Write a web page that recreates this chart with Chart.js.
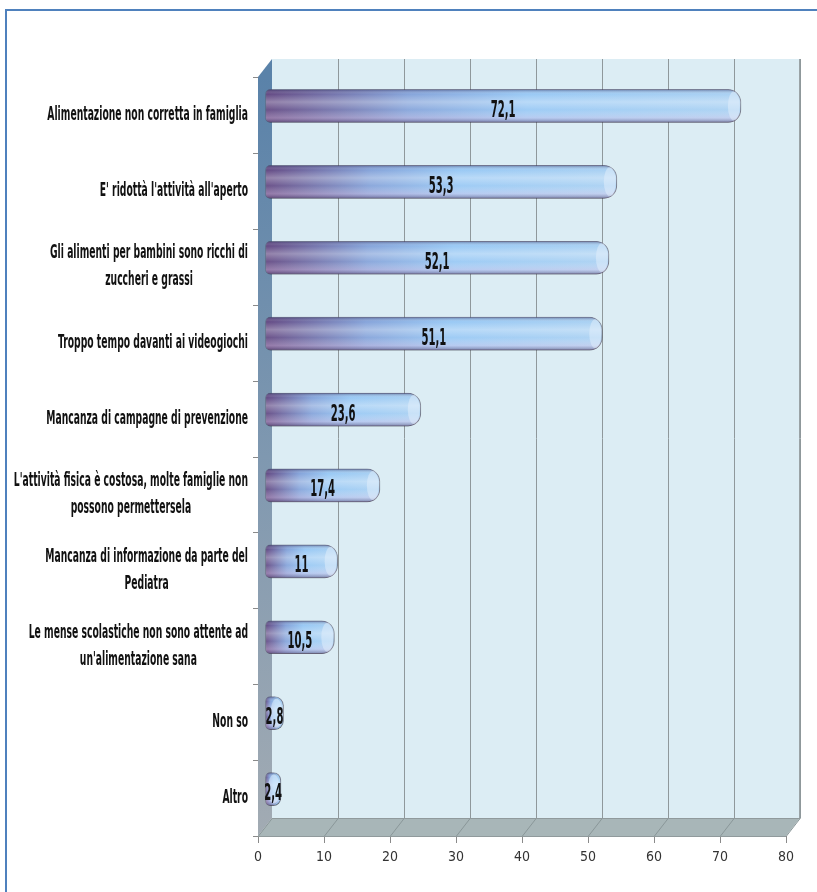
<!DOCTYPE html>
<html>
<head>
<meta charset="utf-8">
<script src="https://cdn.jsdelivr.net/npm/chart.js@4.4.1/dist/chart.umd.min.js"></script>
<style>
  html, body { margin: 0; padding: 0; background: #fff; }
</style>
</head>
<body>
<canvas id="chart" width="817" height="892"></canvas>
<script>
// ---- data ----
const categories = [
  ["Alimentazione non corretta in famiglia"],
  ["E' ridottà l'attività all'aperto"],
  ["Gli alimenti per bambini sono ricchi di", "zuccheri e grassi"],
  ["Troppo tempo davanti ai videogiochi"],
  ["Mancanza di campagne di prevenzione"],
  ["L'attività fisica è costosa, molte famiglie non", "possono permettersela"],
  ["Mancanza di informazione da parte del", "Pediatra"],
  ["Le mense scolastiche non sono attente ad", "un'alimentazione sana"],
  ["Non so"],
  ["Altro"]
];
const values = [72.1, 53.3, 52.1, 51.1, 23.6, 17.4, 11, 10.5, 2.8, 2.4];
const axisMin = 0, axisMax = 80, axisStep = 10;

// ---- look ----
const NARROW = "'Liberation Sans Narrow', 'DejaVu Sans Condensed', 'Arial Narrow', sans-serif";
const DX = 14, DY = 18;      // depth of the 3d box
let SX = 1;                  // horizontal squeeze of the label text

function poly(c, pts) {
  c.beginPath();
  pts.forEach((p, i) => i ? c.lineTo(p[0], p[1]) : c.moveTo(p[0], p[1]));
  c.closePath();
}
function seg(c, x1, y1, x2, y2) {
  c.beginPath(); c.moveTo(x1, y1); c.lineTo(x2, y2); c.stroke();
}
function fmt(v) { return String(v).replace('.', ','); }

const box3d = {
  id: 'box3d',
  beforeDraw(chart) {
    const c = chart.ctx;
    c.save();
    c.fillStyle = '#fff';
    c.fillRect(0, 0, chart.width, chart.height);
    c.strokeStyle = '#4f81bd';
    c.lineWidth = 2;
    c.strokeRect(6, 10, chart.width + 20, chart.height + 20);
    // text squeeze factor, measured once on two reference lines
    c.font = `bold 20px ${NARROW}`;
    SX = (206 / c.measureText(categories[0][0]).width +
          228 / c.measureText(categories[5][0]).width) / 2;
    c.restore();
  },
  beforeDatasetsDraw(chart) {
    const c = chart.ctx, a = chart.chartArea, xs = chart.scales.x;
    const L = a.left, R = a.right, T = a.top, B = a.bottom;
    c.save();
    // back wall
    c.fillStyle = '#dcedf4';
    c.fillRect(L + DX, T - DY, R - L, B - T);
    // floor
    c.fillStyle = '#a8b6b8';
    poly(c, [[L, B], [L + DX, B - DY], [R + DX, B - DY], [R, B]]);
    c.fill();
    // left wall
    const g = c.createLinearGradient(0, T, 0, B);
    g.addColorStop(0, '#5a82a9');
    g.addColorStop(0.5, '#7f98b0');
    g.addColorStop(1, '#a2abb3');
    c.fillStyle = g;
    poly(c, [[L, T], [L + DX, T - DY], [L + DX, B - DY], [L, B]]);
    c.fill();
    // grid lines on wall and floor
    c.lineWidth = 1;
    xs.ticks.forEach(t => {
      const px = Math.round(xs.getPixelForValue(t.value)) + 0.5;
      c.strokeStyle = '#8f989b';
      if (t.value > axisMin) seg(c, px + DX, T - DY, px + DX, B - DY);
      c.strokeStyle = '#8a9799';
      seg(c, px + DX, B - DY, px, B);
    });
    // outline of floor
    c.strokeStyle = '#909a9c';
    seg(c, L, B + 0.5, R, B + 0.5);
    seg(c, L + DX, B - DY + 0.5, R + DX, B - DY + 0.5);
    // left tick marks
    c.strokeStyle = '#8a8a8a';
    const n = categories.length;
    for (let i = 0; i <= n; i++) {
      const y = Math.round(T + i * (B - T) / n) + 0.5;
      seg(c, L - 5, y, L, y);
    }
    c.restore();

    // bars sit in the middle of the box depth
    c.save();
    c.translate(DX / 2, -DY / 2);
    c.shadowColor = 'rgba(0,0,0,0.35)';
    c.shadowBlur = 4;
    c.shadowOffsetX = 1;
    c.shadowOffsetY = 2;
  },
  afterDatasetsDraw(chart) {
    const c = chart.ctx, a = chart.chartArea, ys = chart.scales.y;
    c.shadowColor = 'transparent';
    c.shadowBlur = 0;
    const meta = chart.getDatasetMeta(0);
    meta.data.forEach((bar, i) => {
      const { x, y, base, height } = bar.getProps(['x', 'y', 'base', 'height'], true);
      const h = height, top = y - h / 2, w = x - base;
      c.save();
      c.beginPath();
      c.roundRect(base, top, w, h, [5, h / 2.6, h / 2.6, 5]);
      c.clip();
      const v = c.createLinearGradient(0, top, 0, top + h);
      v.addColorStop(0, 'rgba(40,40,90,0.5)');
      v.addColorStop(0.14, 'rgba(255,255,255,0.05)');
      v.addColorStop(0.38, 'rgba(255,255,255,0.35)');
      v.addColorStop(0.62, 'rgba(255,255,255,0.1)');
      v.addColorStop(0.86, 'rgba(235,210,235,0.4)');
      v.addColorStop(1, 'rgba(90,70,110,0.55)');
      c.fillStyle = v;
      c.fillRect(base, top, w, h);
      // end cap
      c.beginPath();
      c.ellipse(x - 7, y, 6, h / 2 - 2, 0, 0, Math.PI * 2);
      c.fillStyle = 'rgba(228,240,252,0.5)';
      c.fill();
      c.restore();

      // value label
      c.save();
      c.font = `bold 23px ${NARROW}`;
      c.fillStyle = '#111';
      c.textAlign = 'center';
      c.textBaseline = 'middle';
      c.translate((base + x) / 2, y + 5);
      c.scale(SX * 0.95, 1);
      c.fillText(fmt(values[i]), 0, 0);
      c.restore();
    });
    c.restore();

    // right edge of the back wall
    c.save();
    c.strokeStyle = '#9aa3a6';
    c.lineWidth = 1;
    seg(c, a.right + DX - 0.5, a.top - DY, a.right + DX - 0.5, a.bottom - DY);
    c.restore();

    // category labels, lines centred on each other, block right aligned
    c.save();
    c.font = `bold 20px ${NARROW}`;
    c.fillStyle = '#111';
    c.textAlign = 'center';
    c.textBaseline = 'middle';
    const right = a.left - 10, lineH = 27;
    categories.forEach((lines, i) => {
      const cy = ys.getPixelForValue(i);
      const bw = Math.max(...lines.map(s => c.measureText(s).width * SX));
      const cx = right - bw / 2;
      lines.forEach((s, k) => {
        const ly = cy + (k - (lines.length - 1) / 2) * lineH;
        c.save();
        c.translate(cx, ly);
        c.scale(SX, 1);
        c.fillText(s, 0, 0);
        c.restore();
      });
    });
    c.restore();
  }
};

new Chart(document.getElementById('chart'), {
  type: 'bar',
  data: {
    labels: categories,
    datasets: [{
      data: values,
      barThickness: 33,
      borderWidth: 1,
      borderColor: 'rgba(90,90,120,0.6)',
      borderSkipped: false,
      borderRadius: { topLeft: 5, bottomLeft: 5, topRight: 13, bottomRight: 13 },
      backgroundColor(ctx) {
        const chart = ctx.chart;
        if (!chart.chartArea) return '#9cc8f0';
        const xs = chart.scales.x;
        const x0 = xs.getPixelForValue(0), x1 = xs.getPixelForValue(ctx.raw);
        const g = chart.ctx.createLinearGradient(x0, 0, Math.max(x1, x0 + 1), 0);
        g.addColorStop(0, '#5b3f7c');
        g.addColorStop(0.3, '#7f9fd8');
        g.addColorStop(0.55, '#94c6f4');
        g.addColorStop(1, '#a6cff2');
        return g;
      }
    }]
  },
  options: {
    indexAxis: 'y',
    responsive: false,
    animation: false,
    layout: { padding: { left: 258, right: 31, top: 77, bottom: 24 } },
    plugins: { legend: { display: false }, tooltip: { enabled: false } },
    scales: {
      x: {
        min: axisMin,
        max: axisMax,
        ticks: { stepSize: axisStep, color: '#333', font: { family: NARROW, size: 14 }, padding: 6 },
        grid: { drawOnChartArea: false, drawTicks: true, tickLength: 7, color: '#8a8a8a' },
        border: { display: false },
        afterFit(s) { s.height = 32; }
      },
      y: { display: false }
    }
  },
  plugins: [box3d]
});
</script>
</body>
</html>
